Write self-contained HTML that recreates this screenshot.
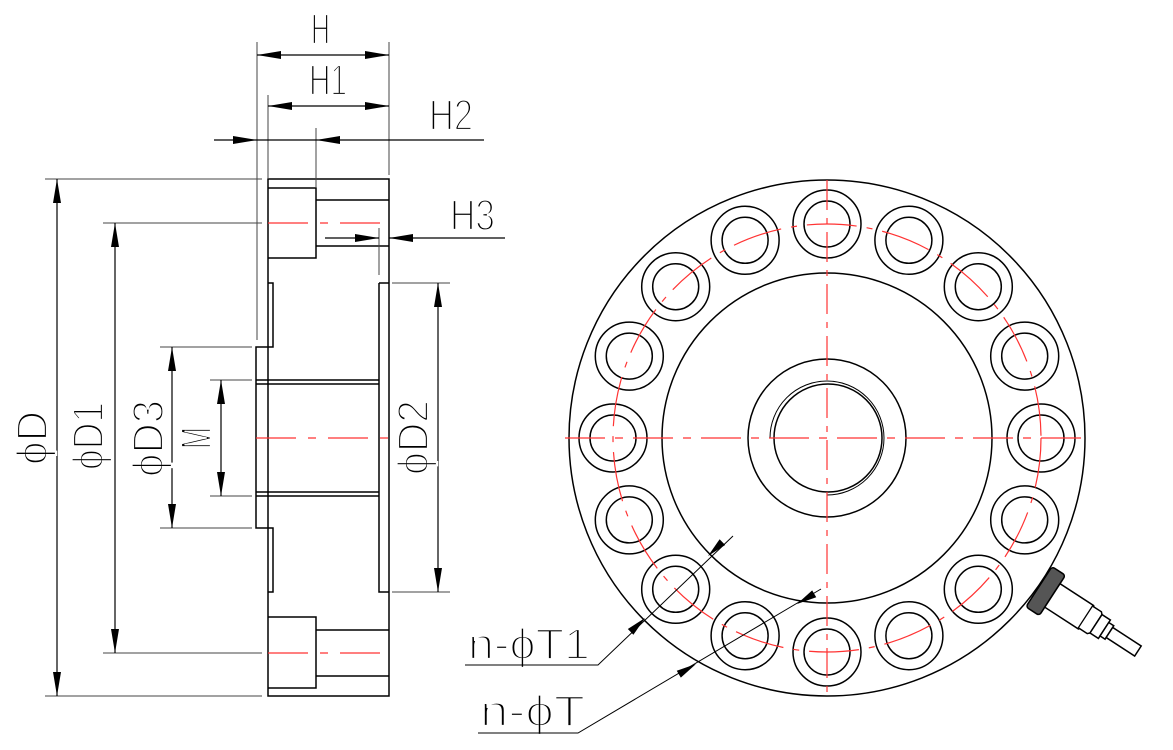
<!DOCTYPE html>
<html><head><meta charset="utf-8"><style>
html,body{margin:0;padding:0;background:#fff}
svg{display:block}
text{font-family:"Liberation Sans",sans-serif;font-size:44px;fill:#000;stroke:#fff;stroke-width:2.2px}
</style></head><body>
<svg width="1173" height="750" viewBox="0 0 1173 750" xmlns="http://www.w3.org/2000/svg">
<defs>
<marker id="a" viewBox="0 0 24 8" refX="24" refY="4" markerWidth="24" markerHeight="8" markerUnits="userSpaceOnUse" orient="auto"><path d="M0,0 L24,4 L0,8 Z" fill="#000"/></marker>
</defs>
<g fill="none" stroke="#000" stroke-width="1.5">
<rect x="268" y="179" width="121" height="517"/>
<path d="M268,188H316V258H268M316,200H389M316,246H389"/>
<path d="M268,617H316V688H268M316,630H389M316,676H389"/>
<path d="M268,283H273V347H256V528H273V592H268"/>
<path d="M256,380H379M256,384H379M256,492H379M256,496H379"/>
<path d="M379,283H389M379,283V592H389"/>
</g>
<g fill="none" stroke="#444" stroke-width="1">
<path d="M257,42V340M389,42V175M268,95V179M316,128V187M379,228V275"/>
<path d="M45,179H262M103,223H262M160,347H252M210,380H252M210,496H252M160,528H252M103,653H262M45,696H262M392,283H450M392,592H450"/>
</g>
<g fill="none" stroke="#000" stroke-width="1.2" marker-end="url(#a)">
<path d="M320,55H257"/><path d="M320,55H389"/>
<path d="M330,106H268"/><path d="M330,106H389"/>
<path d="M214,140H257"/><path d="M484,140H316"/>
<path d="M325,238H379"/><path d="M505,238H389"/>
<path d="M57,440V179"/><path d="M57,440V696"/>
<path d="M115,440V223"/><path d="M115,440V653"/>
<path d="M172,440V347"/><path d="M172,440V528"/>
<path d="M221,440V380"/><path d="M221,440V496"/>
<path d="M438,440V283"/><path d="M438,440V592"/>
</g>
<path d="M257,140H316" stroke="#000" stroke-width="1.2"/>
<g stroke="#f33" stroke-width="1.3" stroke-dasharray="40,12,8,12" fill="none">
<path d="M268,223H389M268,653H389M256,438H389"/>
</g>
<text x="311" y="44" textLength="19" lengthAdjust="spacingAndGlyphs">H</text>
<text x="309" y="95" textLength="38" lengthAdjust="spacingAndGlyphs">H1</text>
<text x="429" y="130" textLength="44" lengthAdjust="spacingAndGlyphs">H2</text>
<text x="450" y="230" textLength="45" lengthAdjust="spacingAndGlyphs">H3</text>
<text transform="translate(47,465) rotate(-90)" textLength="54" lengthAdjust="spacingAndGlyphs">ϕD</text>
<text transform="translate(103,470) rotate(-90)" textLength="68" lengthAdjust="spacingAndGlyphs">ϕD1</text>
<text transform="translate(163,477) rotate(-90)" textLength="77" lengthAdjust="spacingAndGlyphs">ϕD3</text>
<text transform="translate(211,449) rotate(-90)" textLength="22" lengthAdjust="spacingAndGlyphs">M</text>
<text transform="translate(428,475) rotate(-90)" textLength="75" lengthAdjust="spacingAndGlyphs">ϕD2</text>
<text x="468" y="659" textLength="122" lengthAdjust="spacingAndGlyphs">n-ϕT1</text>
<text x="480" y="726" textLength="105" lengthAdjust="spacingAndGlyphs">n-ϕT</text>

<g fill="none" stroke="#000" stroke-width="1.5">
<circle cx="827" cy="438" r="258"/>
<circle cx="827" cy="438" r="165"/>
<circle cx="827" cy="438" r="79"/>
<circle cx="828" cy="438" r="54"/>
<path d="M770,438A57,57 0 1 1 827,495" stroke-width="1"/>
</g>
<g fill="none" stroke="#000" stroke-width="1.5">
<circle cx="827.0" cy="224.0" r="34"/><circle cx="827.0" cy="224.0" r="23"/>
<circle cx="908.9" cy="240.3" r="34"/><circle cx="908.9" cy="240.3" r="23"/>
<circle cx="978.3" cy="286.7" r="34"/><circle cx="978.3" cy="286.7" r="23"/>
<circle cx="1024.7" cy="356.1" r="34"/><circle cx="1024.7" cy="356.1" r="23"/>
<circle cx="1041.0" cy="438.0" r="34"/><circle cx="1041.0" cy="438.0" r="23"/>
<circle cx="1024.7" cy="519.9" r="34"/><circle cx="1024.7" cy="519.9" r="23"/>
<circle cx="978.3" cy="589.3" r="34"/><circle cx="978.3" cy="589.3" r="23"/>
<circle cx="908.9" cy="635.7" r="34"/><circle cx="908.9" cy="635.7" r="23"/>
<circle cx="827.0" cy="652.0" r="34"/><circle cx="827.0" cy="652.0" r="23"/>
<circle cx="745.1" cy="635.7" r="34"/><circle cx="745.1" cy="635.7" r="23"/>
<circle cx="675.7" cy="589.3" r="34"/><circle cx="675.7" cy="589.3" r="23"/>
<circle cx="629.3" cy="519.9" r="34"/><circle cx="629.3" cy="519.9" r="23"/>
<circle cx="613.0" cy="438.0" r="34"/><circle cx="613.0" cy="438.0" r="23"/>
<circle cx="629.3" cy="356.1" r="34"/><circle cx="629.3" cy="356.1" r="23"/>
<circle cx="675.7" cy="286.7" r="34"/><circle cx="675.7" cy="286.7" r="23"/>
<circle cx="745.1" cy="240.3" r="34"/><circle cx="745.1" cy="240.3" r="23"/>
</g>
<g fill="none" stroke="#f33" stroke-width="1.2">
<circle cx="827" cy="438" r="214" stroke-dasharray="50,10,6,10"/>
<path d="M565,438H1090" stroke-dasharray="40,10,8,10"/>
<path d="M827,180V697" stroke-dasharray="30,8,6,8"/>
</g>
<g fill="none" stroke="#000" stroke-width="1">
<path d="M733,536L598,665H465"/>
<path d="M821,589L578,733H478"/>
</g>
<g fill="#000">
<path transform="rotate(-44 708 556)" d="M708,556l20,-4v8z"/>
<path transform="rotate(136 645 618)" d="M645,618l20,-4v8z"/>
<path transform="rotate(-30.6 797 604)" d="M797,604l20,-4v8z"/>
<path transform="rotate(149.4 696 664)" d="M696,664l20,-4v8z"/>
</g>
<g transform="translate(1044,590) rotate(33)" stroke="#000" stroke-width="1.5">
<rect x="-6" y="-24" width="16" height="48" rx="3" fill="#555"/>
<path d="M10,-14H50V14H10Z" fill="#fff"/>
<path d="M50,-14V14" stroke-width="2.5"/>
<path d="M50,-13H60L62,-11V11L60,13H50" fill="#fff"/>
<path d="M62,-11H72V11H62Z" fill="#fff"/>
<path d="M72,-8H78V8H72Z" fill="#fff"/>
<path d="M78,-6H112V6H78Z" fill="#fff"/>
</g>
</svg>
</body></html>
